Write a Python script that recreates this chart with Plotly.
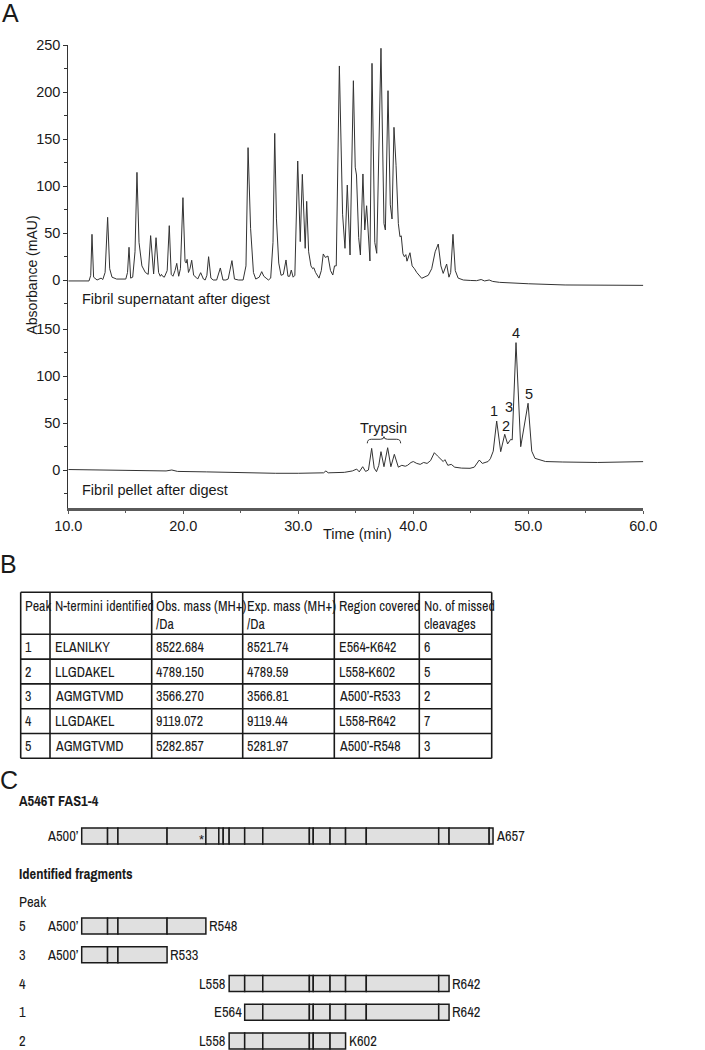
import plotly.graph_objects as go

W, H = 705, 1050

# ---------------- panel A : HPLC traces (min, mAU) ----------------
sup_time = [10.0, 11.8, 11.95, 12.06, 12.2, 12.5, 12.85, 13.0, 13.2, 13.42, 13.6, 13.8, 14.2, 15.0,
            15.15, 15.28, 15.42, 15.6, 15.8, 15.97, 16.15, 16.4, 16.7, 16.95, 17.16, 17.35, 17.42,
            17.63, 17.85, 18.0, 18.1, 18.2, 18.35, 18.6, 18.78, 18.95, 19.1, 19.28, 19.43, 19.6,
            19.75, 19.97, 20.15, 20.25, 20.33, 20.45, 20.58, 20.73, 20.9, 21.1, 21.25, 21.51, 21.75,
            21.9, 22.05, 22.2, 22.4, 22.6, 22.9, 23.22, 23.45, 23.7, 23.9, 24.23, 24.45, 24.8, 25.2,
            25.45, 25.63, 25.85, 26.1, 26.3, 26.6, 26.82, 27.0, 27.2, 27.4, 27.6, 27.8, 27.95, 28.1,
            28.3, 28.5, 28.7, 28.93, 29.1, 29.25, 29.39, 29.55, 29.7, 29.95, 30.17, 30.35, 30.6,
            30.73, 30.9, 31.1, 31.25, 31.35, 31.5, 31.8, 32.0, 32.17, 32.35, 32.58, 32.8, 33.0,
            33.15, 33.3, 33.57, 33.85, 34.06, 34.26, 34.5, 34.79, 34.95, 35.06, 35.25, 35.4, 35.62,
            35.78, 35.94, 36.15, 36.23, 36.41, 36.65, 36.82, 37.19, 37.45, 37.57, 37.8, 38.0, 38.15,
            38.32, 38.5, 38.7, 38.84, 38.95, 39.1, 39.22, 39.35, 39.45, 39.71, 39.9, 40.1, 40.3,
            40.73, 41.0, 41.3, 41.6, 41.9, 42.17, 42.4, 42.6, 42.9, 43.1, 43.25, 43.45, 43.65, 43.9,
            44.35, 45.0, 45.5, 45.9, 46.2, 46.6, 46.9, 47.5, 48.6, 50.0, 53.2, 56.0, 60.0]
sup_abs = [-1, -1, 5, 48.6, 3, 0, 2, 0.5, 8, 66.7, 12, 3, 1, 1,
           8, 34.8, 2, 3, 30, 114.5, 40, 15, 8, 6, 47.2, 8, 6.4,
           45, 8, 4, 6, 4, 3, 10, 57.8, 6, 4, 10, 17.7, 4,
           12, 87.6, 20, 18, 22, 8, 12, 21, 5, 3, 1, 7.8, 1,
           0, 5, 24.8, 2, 0, 0, 12.8, 0, 0, 1, 20.6, 1, 0, 0,
           15, 140.8, 55, 8, 1, 3, 8.9, 4, 2, 0, 2, 40, 156, 65,
           18, 5, 6, 21.3, 4, 4, 10.6, 3, 5, 126.6, 40.8, 112.4, 33.7,
           83.7, 30, 15, 12, 13, 8, 2, 10, 27.7, 24, 25.5, 10, 5.3,
           15, 15, 227.7, 70, 33.7, 101, 26.6, 212, 120, 111.7, 45, 26.6, 112.8,
           53.2, 79, 25, 20.2, 230.5, 40, 28.4, 246.5, 60, 53.2, 201.4, 80, 64.9,
           162.4, 122, 60, 46, 47, 28, 24.8, 27, 20, 29, 15, 12, 8,
           1.8, 3, 5, 12, 30, 38.3, 15, 7, 17, 3, 8, 48.6, 10, 2,
           0, -0.5, -0.7, 0.5, -1, 0, -1.5, -2.5, -3.5, -4, -5.3, -5.5, -5.7]

pel_time = [10.0, 12.0, 15.0, 18.5, 19.0, 19.5, 22.0, 25.0, 28.0, 30.0, 32.2, 32.4, 32.6, 34.0,
            34.7, 35.08, 35.3, 35.6, 35.85, 36.1, 36.38, 36.6, 36.8, 37.0, 37.19, 37.45, 37.77,
            38.05, 38.35, 38.7, 39.0, 39.3, 39.5, 39.8, 40.0, 40.3, 40.6, 40.9, 41.2, 41.5, 41.83,
            42.1, 42.4, 42.6, 42.75, 43.0, 43.3, 43.6, 44.2, 44.93, 45.3, 45.74, 46.0, 46.5, 46.7,
            46.95, 47.25, 47.6, 47.95, 48.2, 48.47, 48.6, 48.93, 49.34, 49.98, 50.3, 50.58, 51.5,
            53.0, 56.0, 60.0]
pel_abs = [0.5, 0, -0.5, -1, 0, -1.5, -2, -3, -3.5, -3.5, -3, -1, -3, -2.5,
           -1, 1, -2, 3.5, -1.5, 0, 23, 2, -1.8, 5, 19.5, 3.5, 23.7,
           3.5, 16.7, 3, 5, 4, 5, 8, 9, 7, 6, 8, 7, 10, 18.4,
           15, 12, 9, 11, 5, 6, 3, 2, 1.8, 3, 10.6, 7, 9, 12,
           20, 52.1, 19.5, 38, 27.7, 32.6, 32, 135.5, 24.8, 71, 20, 12.4, 9,
           8.5, 8, 8.9]

peak_ids = ["1", "2", "3", "4", "5"]

# ---------------- panel B : table ----------------
tbl_header = ["Peak", "N-termini identified", "Obs. mass (MH+)<br>/Da", "Exp. mass (MH+)<br>/Da",
              "Region covered", "No. of missed<br>cleavages"]
tbl_peak = ["1", "2", "3", "4", "5"]
tbl_nterm = ["ELANILKY", "LLGDAKEL", "AGMGTVMD", "LLGDAKEL", "AGMGTVMD"]
tbl_obs = ["8522.684", "4789.150", "3566.270", "9119.072", "5282.857"]
tbl_exp = ["8521.74", "4789.59", "3566.81", "9119.44", "5281.97"]
tbl_region = ["E564-K642", "L558-K602", "A500’-R533", "L558-R642", "A500’-R548"]
tbl_missed = ["6", "5", "2", "7", "3"]

# ---------------- panel C : fragment map (residue numbers) ----------------
full_start, full_end = 500, 659
full_start_lbl, full_end_lbl = "A500’", "A657"
sites = [510, 514, 533, 548, 553, 554.7, 557, 563, 570, 588, 589.5, 596, 602, 610, 638, 642, 657.5]
mutation_pos = 546.4
frag_peak = ["5", "3", "4", "1", "2"]
frag_start = [500, 500, 557, 563, 557]
frag_end = [548, 533, 642, 642, 602]
frag_start_lbl = ["A500’", "A500’", "L558", "E564", "L558"]
frag_end_lbl = ["R548", "R533", "R642", "R642", "K602"]

FONT = "Liberation Sans, Arial, Helvetica, sans-serif"
NARROW = "Archivo Narrow, Liberation Sans Narrow, Arial Narrow, Liberation Sans, sans-serif"
INK = "#1a1a1a"


def px(x):
    return x / W


def py(y):
    return 1 - y / H


fig = go.Figure()

fig.add_trace(go.Scatter(x=pel_time, y=pel_abs, mode="lines", xaxis="x", yaxis="y",
                         line=dict(color="#333", width=1), hoverinfo="skip"))
fig.add_trace(go.Scatter(x=sup_time, y=sup_abs, mode="lines", xaxis="x", yaxis="y2",
                         line=dict(color="#333", width=1), hoverinfo="skip"))

# rows of panel C: full construct on top, fragments below
ROW_H = 28.75
full_row = -3.13
frag_rows = list(range(len(frag_peak)))


def segs(a, b):
    cuts = [a] + [s for s in sites if a < s < b] + [b]
    return cuts[:-1], [cuts[i + 1] - cuts[i] for i in range(len(cuts) - 1)]


bar_style = dict(color="#e0e0e0", line=dict(color=INK, width=1.5))
st, ln = segs(full_start, full_end)
fig.add_trace(go.Bar(x=ln, base=st, y=[full_row] * len(st), orientation="h", width=0.56,
                     xaxis="x2", yaxis="y3", marker=bar_style, hoverinfo="skip"))
for r, a, b in zip(frag_rows, frag_start, frag_end):
    st, ln = segs(a, b)
    fig.add_trace(go.Bar(x=ln, base=st, y=[r] * len(st), orientation="h", width=0.56,
                         xaxis="x2", yaxis="y3", marker=bar_style, hoverinfo="skip"))

ann = []
shapes = []


def txt(x, y, s, xref="paper", yref="paper", size=14.5, family=FONT, xanchor="center", **kw):
    ann.append(dict(x=x, y=y, xref=xref, yref=yref, text=s, showarrow=False, xanchor=xanchor,
                    yanchor=kw.pop("yanchor", "middle"),
                    font=dict(family=family, size=size, color=INK), **kw))


# ---- table (panel B) ----
col_w = [29.3, 101.7, 91, 91.6, 85, 72.4]
TX, TY, HEAD_H, ROW_T = 20.7, 592.3, 42, 24.8
col_x = [TX]
for w in col_w:
    col_x.append(col_x[-1] + w)
row_y = [TY, TY + HEAD_H] + [TY + HEAD_H + ROW_T * (i + 1) for i in range(len(tbl_peak))]
for yy in row_y:
    shapes.append(dict(type="line", xref="paper", yref="paper", x0=px(col_x[0]), x1=px(col_x[-1]),
                       y0=py(yy), y1=py(yy), line=dict(color=INK, width=1.6)))
for xx in col_x:
    shapes.append(dict(type="line", xref="paper", yref="paper", x0=px(xx), x1=px(xx),
                       y0=py(row_y[0]), y1=py(row_y[-1]), line=dict(color=INK, width=1.6)))
columns = [tbl_peak, tbl_nterm, tbl_obs, tbl_exp, tbl_region, tbl_missed]
for j, (head, col) in enumerate(zip(tbl_header, columns)):
    txt(px(col_x[j] + 2.5), py(TY + 3), head, family=NARROW, size=14, xanchor="left",
        yanchor="top", align="left")
    for i, v in enumerate(col):
        txt(px(col_x[j] + 2.5), py((row_y[i + 1] + row_y[i + 2]) / 2), v, family=NARROW, size=14,
            xanchor="left")

# panel letters
txt(px(10), py(13), "A", size=25)
txt(px(8.5), py(564), "B", size=25)
txt(px(8.5), py(780), "C", size=25)

# panel A texts
txt(px(31.5), py(275), "Absorbance (mAU)", size=14, textangle=-90)
txt(px(358), py(534), "Time (min)", size=14.5)
txt(px(80), py(299), "Fibril supernatant after digest", xanchor="left")
txt(px(80), py(490), "Fibril pellet after digest", xanchor="left")
txt(37.37, 44.7, "Trypsin", xref="x", yref="y")
for s, t, v in zip(peak_ids, [47.02, 48.06, 48.32, 48.93, 50.06], [62.8, 46.8, 67, 145.7, 80.9]):
    txt(t, v, s, xref="x", yref="y")

# panel C texts
txt(px(16.5), py(800.5), "<b>A546T FAS1-4</b>", family=NARROW, size=14.5, xanchor="left")
txt(px(16.5), py(874), "<b>Identified fragments</b>", family=NARROW, size=14.5, xanchor="left")
txt(px(16.5), full_row + (901.7 - 835.5) / ROW_H, "Peak", yref="y3", family=NARROW, size=14.5,
    xanchor="left")
txt(full_start, full_row, full_start_lbl, xref="x2", yref="y3", family=NARROW, size=14.5,
    xanchor="right", xshift=-1)
txt(full_end, full_row, full_end_lbl, xref="x2", yref="y3", family=NARROW, size=14.5,
    xanchor="left", xshift=1)
txt(mutation_pos, full_row + 0.12, "*", xref="x2", yref="y3", size=13)
for r, p, a, b, la, lb in zip(frag_rows, frag_peak, frag_start, frag_end, frag_start_lbl, frag_end_lbl):
    txt(px(16.5), r, p, yref="y3", family=NARROW, size=14.5, xanchor="left")
    txt(a, r, la, xref="x2", yref="y3", family=NARROW, size=14.5, xanchor="right", xshift=-1)
    txt(b, r, lb, xref="x2", yref="y3", family=NARROW, size=14.5, xanchor="left", xshift=1)

# trypsin brace (data coords of lower trace)
t0, t1, tm, ye, yb, yt = 36.0, 38.9, 37.45, 28.4, 32.7, 35.5
brace = (f"M {t0},{ye} Q {t0},{yb} {t0 + 0.35},{yb} L {tm - 0.3},{yb} Q {tm},{yb} {tm},{yt} "
         f"Q {tm},{yb} {tm + 0.3},{yb} L {t1 - 0.35},{yb} Q {t1},{yb} {t1},{ye}")
shapes.append(dict(type="path", path=brace, xref="x", yref="y", line=dict(color="#333", width=1)))

tickfont = dict(family=FONT, size=14.5, color=INK)
yax_common = dict(showline=True, linecolor="#333", linewidth=1, ticks="outside", ticklen=4,
                  tickcolor="#333", dtick=50, tick0=0, showgrid=False, zeroline=False,
                  tickfont=tickfont, anchor="x", automargin=False,
                  minor=dict(dtick=25, tick0=0, ticks="outside", ticklen=3, tickcolor="#333"))

fig.update_layout(
    width=W, height=H, margin=dict(l=0, r=0, t=0, b=0),
    paper_bgcolor="white", plot_bgcolor="white", showlegend=False, barmode="overlay",
    xaxis=dict(domain=[px(68.3), px(643.3)], range=[10, 60], anchor="y", showline=True,
               linecolor="#5a5a5a", linewidth=2.5, ticks="outside", ticklen=3, tickcolor="#5a5a5a",
               dtick=10, tick0=10, tickformat=".1f", showgrid=False, zeroline=False,
               tickfont=tickfont, automargin=False,
               minor=dict(dtick=5, tick0=10, ticks="outside", ticklen=2, tickcolor="#5a5a5a")),
    yaxis=dict(domain=[py(508), py(315)], range=[(470 - 508) / 0.94, (470 - 315) / 0.94], **yax_common),
    yaxis2=dict(domain=[py(315), py(45)], range=[(280 - 315) / 0.94, 250], **yax_common),
    xaxis2=dict(domain=[0, 1], range=[500 - 81.7 / 2.587, 500 + (W - 81.7) / 2.587], visible=False,
                anchor="y3"),
    yaxis3=dict(domain=[0, py(790)], range=[(1050 - 926) / ROW_H, (790 - 926) / ROW_H],
                visible=False, anchor="x2"),
    shapes=shapes,
    annotations=ann,
)

fig.write_html("out.html", config={"displayModeBar": False},
               post_script="document.body.style.margin='0px';")
